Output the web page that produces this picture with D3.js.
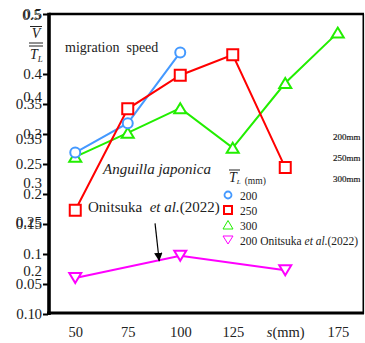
<!DOCTYPE html>
<html>
<head>
<meta charset="utf-8">
<script src="https://cdn.jsdelivr.net/npm/d3@7"></script>
<style>
body { margin: 0; background: #fff; }
svg { display: block; font-family: "Liberation Serif", "Times New Roman", serif; }
</style>
</head>
<body>
<div id="box"></div>
<script>
var w = 365,
    h = 343;

// data
var sizes = [50, 75, 100, 125, 150, 175];
var speed200 = [0.269, 0.318, 0.436];
var speed250 = [0.173, 0.342, 0.398, 0.432, 0.244];
var speed300 = [0.262, 0.302, 0.343, 0.277, 0.385, 0.469];
var onitsukaSizes = [50, 100, 150];
var onitsuka200 = [0.060, 0.097, 0.073];

var xTicks = [50, 75, 100, 125, 150, 175];
var xTickLabels = ["50", "75", "100", "125", "s(mm)", "175"];
var yTicks = [0, 0.05, 0.1, 0.15, 0.2, 0.25, 0.3, 0.35, 0.4, 0.5];
var yTickLabels = ["0", "0.05", "0.1", "0.15", "0.2", "0.25", "0.3", "0.35", "0.4", "0.5"];
// second, misaligned set of labels printed over the first one
var ghostLabels = ["0.5", "0.4", "0.35", "0.3", "0.25", "0.2", "0.1"];
var ghostAt = [0.5, 0.362, 0.292, 0.218, 0.153, 0.072, 0];
var sideLabels = ["200mm", "250mm", "300mm"];

var x = d3.scaleLinear().domain([37.5, 187.5]).range([49, 364]);
var y = d3.scaleLinear().domain([0, 0.5]).range([314, 14]);

var svg = d3.select("#box")
            .append("svg")
            .attr("width", w)
            .attr("height", h);

// frame
svg.append("line").attr("x1", 49).attr("x2", 364).attr("y1", 14).attr("y2", 14)
   .attr("stroke", "#000").attr("stroke-width", 2.5);
svg.append("line").attr("x1", 363.3).attr("x2", 363.3).attr("y1", 14).attr("y2", 314)
   .attr("stroke", "#000").attr("stroke-width", 1.6);
svg.append("line").attr("x1", 47).attr("x2", 364).attr("y1", 313).attr("y2", 313)
   .attr("stroke", "#000").attr("stroke-width", 3.2);
svg.append("line").attr("x1", 49).attr("x2", 49).attr("y1", 12.7).attr("y2", 315)
   .attr("stroke", "#000").attr("stroke-width", 3.6);

// y axis
var yAxis = svg.append("g")
    .attr("transform", "translate(48,0)")
    .call(d3.axisLeft(y)
        .tickValues(yTicks)
        .tickFormat(function(d, i) { return yTickLabels[i]; })
        .tickSize(5)
        .tickPadding(1));
yAxis.select(".domain").remove();
yAxis.selectAll("line").attr("stroke", "#000").attr("stroke-width", 2);
yAxis.selectAll("text")
     .attr("font-family", "Liberation Serif")
     .attr("font-size", "15px")
     .attr("fill", "#222");

svg.selectAll(".ghost")
   .data(ghostLabels)
   .enter()
   .append("text")
   .attr("class", "ghost")
   .text(function(d) { return d; })
   .attr("x", function(d, i) { return i == 0 ? 41 : (i == 6 ? 35 : 42); })
   .attr("y", function(d, i) { return y(ghostAt[i]) + (i == 0 ? 5.5 : 5); })
   .attr("text-anchor", "end")
   .attr("font-size", "15px")
   .attr("fill", "#222");

// x axis labels
var xAxis = svg.append("g")
    .attr("transform", "translate(0,314)")
    .call(d3.axisBottom(x)
        .tickValues(xTicks)
        .tickSize(0)
        .tickPadding(13)
        .tickFormat(function(d, i) { return xTickLabels[i]; }));
xAxis.select(".domain").remove();
xAxis.selectAll("text")
     .attr("font-family", "Liberation Serif")
     .attr("font-size", "14.5px")
     .attr("fill", "#222")
     .each(function(d, i) {
       if (xTickLabels[i].indexOf("(") > 0) {
         var t = d3.select(this).text("");
         t.append("tspan").attr("font-style", "italic").text(xTickLabels[i].slice(0, 1));
         t.append("tspan").text(xTickLabels[i].slice(1));
       }
     });

// y axis title V / T_L
var yt = svg.append("g").attr("fill", "#222").attr("stroke", "#222");
yt.append("line").attr("x1", 30).attr("x2", 42).attr("y1", 26.5).attr("y2", 26.5).attr("stroke-width", 1);
yt.append("text").attr("x", 36).attr("y", 38).attr("text-anchor", "middle")
  .attr("stroke", "none").attr("font-style", "italic").attr("font-size", "14px").text("V");
yt.append("line").attr("x1", 29).attr("x2", 43).attr("y1", 43).attr("y2", 43).attr("stroke-width", 1);
yt.append("line").attr("x1", 29).attr("x2", 43).attr("y1", 46).attr("y2", 46).attr("stroke-width", 1);
var tl = yt.append("text").attr("x", 30).attr("y", 59).attr("stroke", "none")
  .attr("font-style", "italic").attr("font-size", "14px");
tl.append("tspan").text("T");
tl.append("tspan").attr("font-size", "9px").attr("dy", 3).text("L");

svg.append("text").attr("x", 65).attr("y", 52)
   .attr("font-size", "14px").attr("fill", "#222")
   .style("white-space", "pre")
   .text("migration  speed");

function drawLine(xs, ys, colour) {
  var line = d3.line()
      .x(function(d, i) { return x(xs[i]); })
      .y(function(d) { return y(d); });
  svg.append("path")
     .datum(ys)
     .attr("d", line)
     .attr("fill", "none")
     .attr("stroke", colour)
     .attr("stroke-width", 2);
}

function markers(xs, ys, colour, pathStr) {
  svg.selectAll(null)
     .data(ys)
     .enter()
     .append("path")
     .attr("d", pathStr)
     .attr("transform", function(d, i) { return "translate(" + x(xs[i]) + "," + y(d) + ")"; })
     .attr("fill", "#fff")
     .attr("stroke", colour)
     .attr("stroke-width", 2);
}

var circleP = "M5,0A5,5 0 1,1 -5,0A5,5 0 1,1 5,0Z";
var squareP = "M-5.5,-5.5H5.5V5.5H-5.5Z";
var triUpP = "M0,-5L6,5H-6Z";
var triDownP = "M0,5L6,-5H-6Z";

drawLine(sizes, speed300, "#22ee00");
drawLine(sizes, speed200, "#4499ff");
drawLine(sizes, speed250, "#ff0000");
drawLine(onitsukaSizes, onitsuka200, "#ff00ff");

markers(sizes, speed300, "#22ee00", triUpP);
markers(sizes, speed200, "#4499ff", circleP);
markers(sizes, speed250, "#ff0000", squareP);
markers(onitsukaSizes, onitsuka200, "#ff00ff", triDownP);

// annotations
svg.append("text").attr("x", 103).attr("y", 174)
   .attr("font-size", "15px").attr("font-style", "italic").attr("fill", "#222")
   .text("Anguilla japonica");

var on = svg.append("text").attr("x", 88).attr("y", 212)
   .attr("font-size", "15px").attr("fill", "#222").style("white-space", "pre");
on.append("tspan").text("Onitsuka  ");
on.append("tspan").attr("font-style", "italic").text("et al.");
on.append("tspan").text("(2022)");

svg.append("defs").append("marker")
   .attr("id", "arrow")
   .attr("viewBox", "0 0 10 10")
   .attr("refX", 10).attr("refY", 5)
   .attr("markerWidth", 7).attr("markerHeight", 7)
   .attr("orient", "auto")
   .append("path").attr("d", "M0,0L10,5L0,10Z").attr("fill", "#000");
svg.append("line")
   .attr("x1", x(88)).attr("y1", y(0.151))
   .attr("x2", x(90)).attr("y2", y(0.088))
   .attr("stroke", "#000").attr("stroke-width", 1.2)
   .attr("marker-end", "url(#arrow)");

// legend
var lg = svg.append("g").attr("fill", "#222");
lg.append("line").attr("x1", 229).attr("x2", 240).attr("y1", 170).attr("y2", 170)
  .attr("stroke", "#222").attr("stroke-width", 1);
var lt = lg.append("text").attr("x", 229).attr("y", 182).attr("font-size", "14px");
lt.append("tspan").attr("font-style", "italic").text("T");
lt.append("tspan").attr("font-style", "italic").attr("font-size", "7px").attr("dy", 2).text("L");
lt.append("tspan").attr("font-size", "9.5px").attr("dx", 4).text("(mm)");

var legendNames = ["200", "250", "300", "200 Onitsuka "];
var legendColours = ["#4499ff", "#ff0000", "#22ee00", "#ff00ff"];
var legendShapes = ["M3.5,0A3.5,3.5 0 1,1 -3.5,0A3.5,3.5 0 1,1 3.5,0Z",
                    "M-4,-4H4V4H-4Z", "M0,-4.5L5,4H-5Z", "M0,4L5,-4H-5Z"];
var legendWidths = [1.8, 2, 1, 1];

var rows = lg.selectAll(".row")
   .data(legendNames)
   .enter()
   .append("g")
   .attr("class", "row")
   .attr("transform", function(d, i) { return "translate(228," + (195 + i * 15) + ")"; });
rows.append("path")
    .attr("d", function(d, i) { return legendShapes[i]; })
    .attr("fill", "#fff")
    .attr("stroke", function(d, i) { return legendColours[i]; })
    .attr("stroke-width", function(d, i) { return legendWidths[i]; });
var rt = rows.append("text")
    .attr("x", 12).attr("y", 4.5)
    .attr("font-size", "11.5px")
    .style("white-space", "pre")
    .text(function(d) { return d; });
rt.filter(function(d, i) { return i == 3; })
  .call(function(t) {
    t.append("tspan").attr("font-style", "italic").text("et al.");
    t.append("tspan").text("(2022)");
  });

svg.append("clipPath").attr("id", "sideclip")
   .append("rect").attr("x", 300).attr("y", 0).attr("width", 60.5).attr("height", h);
svg.append("g").attr("clip-path", "url(#sideclip)")
   .selectAll("text")
   .data(sideLabels)
   .enter()
   .append("text")
   .text(function(d) { return d; })
   .attr("x", 333)
   .attr("y", function(d, i) { return 140 + i * 21; })
   .attr("font-size", "9px")
   .attr("fill", "#222")
   .attr("stroke", "#222")
   .attr("stroke-width", 0.2);
</script>
</body>
</html>
